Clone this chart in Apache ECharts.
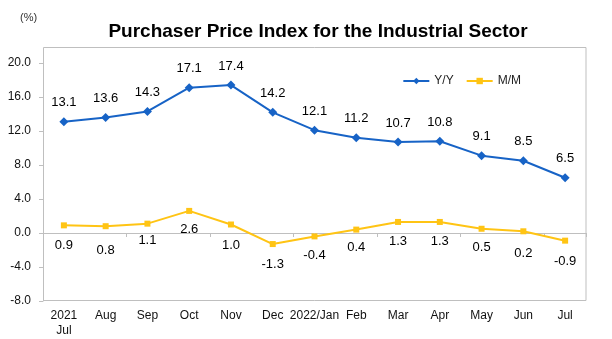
<!DOCTYPE html>
<html>
<head>
<meta charset="utf-8">
<script src="https://cdn.jsdelivr.net/npm/echarts@6/dist/echarts.min.js"></script>
<style>html,body{margin:0;padding:0;background:#fff;}#c{width:612px;height:339px;}</style>
</head>
<body>
<div id="c"></div>
<script>
const categories = ['2021\nJul','Aug','Sep','Oct','Nov','Dec','2022/Jan','Feb','Mar','Apr','May','Jun','Jul'];
const yoy = [13.1,13.6,14.3,17.1,17.4,14.2,12.1,11.2,10.7,10.8,9.1,8.5,6.5];
const mom = [0.9,0.8,1.1,2.6,1.0,-1.3,-0.4,0.4,1.3,1.3,0.5,0.2,-0.9];
const momLabelShift = [6,10,2,4,6,6,5,3,5,5,4,8,6];

const BLUE = '#1763c6';
const YELLOW = '#ffc414';
const GRAY = '#bfbfbf';
const FONT = '"Liberation Sans", Arial, sans-serif';

const chart = echarts.init(document.getElementById('c'), null, {renderer:'canvas'});
chart.setOption({
  backgroundColor: '#fff',
  animation: false,
  title: {
    text: 'Purchaser Price Index for the Industrial Sector',
    left: 313, top: 17, textAlign: 'center',
    textStyle: {fontFamily: FONT, fontWeight: 'bold', fontSize: 19, color: '#000'}
  },
  graphic: [
    {type:'text', left: 20, top: 12, style:{text:'(%)', font:'11px ' + FONT, fill:'#333'}},
    {type:'rect', shape:{x:43.5, y:47.5, width:542.5, height:253}, style:{fill:'none', stroke:GRAY, lineWidth:1}, silent:true}
  ],
  legend: {
    right: 86, top: 70,
    itemWidth: 26, itemHeight: 8, itemGap: 12,
    textStyle: {fontFamily: FONT, fontSize: 12, color: '#222'},
    data: [{name:'Y/Y'},{name:'M/M'}]
  },
  grid: {left: 43, right: 26, top: 63, bottom: 38},
  xAxis: [
    {
      type: 'category', data: categories, position: 'bottom',
      axisLine: {show: false, onZero: false}, axisTick: {show: false},
      axisLabel: {fontFamily: FONT, fontSize: 12, color: '#111', margin: 7, lineHeight: 15, interval: 0}
    },
    {
      type: 'category', data: categories, position: 'bottom',
      axisLine: {show: true, onZero: true, lineStyle: {color: GRAY}},
      axisTick: {show: true, length: 4, lineStyle: {color: GRAY}},
      axisLabel: {show: false}
    }
  ],
  yAxis: {
    type: 'value', min: -8, max: 20, interval: 4,
    axisLine: {show: true, lineStyle: {color: GRAY}},
    axisTick: {show: true, length: 4, lineStyle: {color: GRAY}},
    splitLine: {show: false},
    axisLabel: {fontFamily: FONT, fontSize: 12, color: '#111', margin: 12, formatter: v => v.toFixed(1)}
  },
  series: [
    {
      name: 'Y/Y', type: 'line', data: yoy, xAxisIndex: 0,
      symbol: 'diamond', symbolSize: 9,
      lineStyle: {color: BLUE, width: 2}, itemStyle: {color: BLUE},
      label: {show: true, position: 'top', distance: 8, fontFamily: FONT, fontSize: 13, color: '#000', formatter: p => p.value.toFixed(1)}
    },
    {
      name: 'M/M', type: 'line', data: mom.map((v,i) => ({value: v, label: {offset: [0, momLabelShift[i]]}})), xAxisIndex: 0,
      symbol: 'rect', symbolSize: 6,
      lineStyle: {color: YELLOW, width: 2}, itemStyle: {color: YELLOW},
      label: {show: true, position: 'bottom', distance: 5, fontFamily: FONT, fontSize: 13, color: '#000', formatter: p => p.value.toFixed(1)}
    }
  ]
});
</script>
</body>
</html>
